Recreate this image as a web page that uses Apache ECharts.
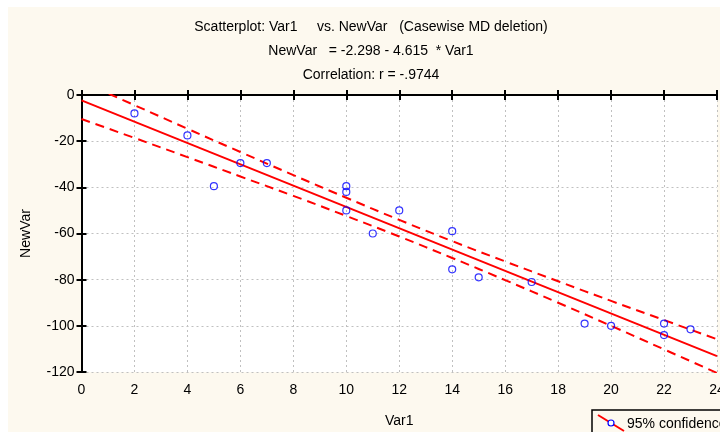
<!DOCTYPE html>
<html>
<head>
<meta charset="utf-8">
<script src="https://cdn.jsdelivr.net/npm/echarts@6/dist/echarts.min.js"></script>
<style>
html,body{margin:0;padding:0;background:#ffffff;}
#chart{width:720px;height:432px;}
</style>
</head>
<body>
<div id="chart"></div>
<script>
// Scatter data
var var1 = [2, 4, 5, 6, 7, 10, 10, 10, 11, 12, 14, 14, 15, 17, 19, 20, 22, 22, 23];
var newVar = [-8, -17.5, -39.5, -29.5, -29.5, -39.5, -42, -50, -60, -50, -59, -75.5, -79, -81, -99, -100, -99, -104, -101.5];

// Regression line end points
var fitX = [0, 24];
var fitY = [-2.3, -113.1];

// 95% confidence bands
var bandX = [0, 2, 4, 6, 8, 10, 12, 14, 16, 18, 20, 22, 24];
var upperBand = [5.8, -4.4, -14.6, -24.7, -34.7, -44.5, -54.1, -63.3, -72.1, -80.7, -89.2, -97.5, -105.8];
var lowerBand = [-10.4, -18.6, -26.9, -35.3, -43.7, -52.4, -61.3, -70.6, -80.2, -90.0, -100.0, -110.2, -120.4];

var xTicks = {min: 0, max: 24, interval: 2};
var yTicks = {min: -120, max: 0, interval: 20};

var titleLines = [
  'Scatterplot: Var1     vs. NewVar   (Casewise MD deletion)',
  'NewVar   = -2.298 - 4.615  * Var1',
  'Correlation: r = -.9744'
];
var legendLabel = '95% confidence';

function zip(a, b) { return a.map(function (v, i) { return [v, b[i]]; }); }

var FONT = '"Liberation Sans", Arial, sans-serif';
var FS = 14;
var chart = echarts.init(document.getElementById('chart'), null, {renderer: 'canvas'});

var gridLines = {show: true, lineStyle: {color: '#c0c0c0', type: [2, 3], width: 1}};
var axisLine = {show: true, lineStyle: {color: '#000', width: 2}};
var tick = {show: true, inside: true, length: 5, lineStyle: {color: '#000', width: 2}};

var option = {
  backgroundColor: '#ffffff',
  animation: false,
  grid: {left: 81.5, right: 3, top: 95, bottom: 60, show: true, backgroundColor: '#ffffff', borderWidth: 0,
    containLabel: false, outerBoundsMode: 'none'},
  graphic: [
    {type: 'rect', z: -10, silent: true, shape: {x: 8, y: 7, width: 712, height: 425}, style: {fill: '#fdf9ef'}},
    {type: 'text', x: 371, y: 27, style: {text: titleLines[0], font: FS + 'px ' + FONT, fill: '#000', textAlign: 'center', textVerticalAlign: 'middle'}},
    {type: 'text', x: 371, y: 51, style: {text: titleLines[1], font: FS + 'px ' + FONT, fill: '#000', textAlign: 'center', textVerticalAlign: 'middle'}},
    {type: 'text', x: 371, y: 75, style: {text: titleLines[2], font: FS + 'px ' + FONT, fill: '#000', textAlign: 'center', textVerticalAlign: 'middle'}},
    {type: 'rect', z: 10, shape: {x: 592, y: 410, width: 200, height: 40}, style: {fill: '#fdf9ef', stroke: '#000', lineWidth: 1.5}},
    {type: 'line', z: 11, shape: {x1: 598, y1: 415, x2: 624, y2: 431}, style: {stroke: '#ff0000', lineWidth: 2}},
    {type: 'circle', z: 12, shape: {cx: 611, cy: 423, r: 3}, style: {fill: '#ffffff', stroke: '#0000ff', lineWidth: 1.2}},
    {type: 'text', z: 12, x: 627, y: 424, style: {text: legendLabel, font: FS + 'px ' + FONT, fill: '#000', textVerticalAlign: 'middle'}}
  ],
  xAxis: [
    {type: 'value', position: 'bottom', min: xTicks.min, max: xTicks.max, interval: xTicks.interval,
      name: 'Var1', nameLocation: 'middle', nameGap: 42, nameTextStyle: {fontFamily: FONT, fontSize: FS, color: '#000'},
      axisLine: axisLine, axisTick: tick, splitLine: gridLines,
      axisLabel: {fontFamily: FONT, fontSize: FS, color: '#000', margin: 11, showMaxLabel: true}},
    {type: 'value', position: 'top', min: xTicks.min, max: xTicks.max, interval: xTicks.interval,
      axisLine: axisLine, axisTick: tick, splitLine: {show: false}, axisLabel: {show: false}}
  ],
  yAxis: [
    {type: 'value', position: 'left', min: yTicks.min, max: yTicks.max, interval: yTicks.interval,
      name: 'NewVar', nameLocation: 'middle', nameGap: 48, nameTextStyle: {fontFamily: FONT, fontSize: FS, color: '#000'},
      axisLine: axisLine, axisTick: tick, splitLine: gridLines,
      axisLabel: {fontFamily: FONT, fontSize: FS, color: '#000', margin: 7}},
    {type: 'value', position: 'right', min: yTicks.min, max: yTicks.max, interval: yTicks.interval,
      axisLine: axisLine, axisTick: tick, splitLine: {show: false}, axisLabel: {show: false}}
  ],
  series: [
    {type: 'line', name: 'upper', data: zip(bandX, upperBand), smooth: true, symbol: 'none', clip: true,
      lineStyle: {color: '#ff0000', width: 2, type: [9, 6]}, z: 3},
    {type: 'line', name: 'lower', data: zip(bandX, lowerBand), smooth: true, symbol: 'none', clip: true,
      lineStyle: {color: '#ff0000', width: 2, type: [9, 6]}, z: 3},
    {type: 'line', name: 'fit', data: zip(fitX, fitY), symbol: 'none', clip: true,
      lineStyle: {color: '#ff0000', width: 2}, z: 4},
    {type: 'scatter', name: 'data', data: zip(var1, newVar), symbol: 'circle', symbolSize: 7,
      itemStyle: {color: 'rgba(0,0,0,0)', borderColor: '#0000ff', borderWidth: 1.2}, z: 5}
  ]
};
chart.setOption(option);
</script>
</body>
</html>
